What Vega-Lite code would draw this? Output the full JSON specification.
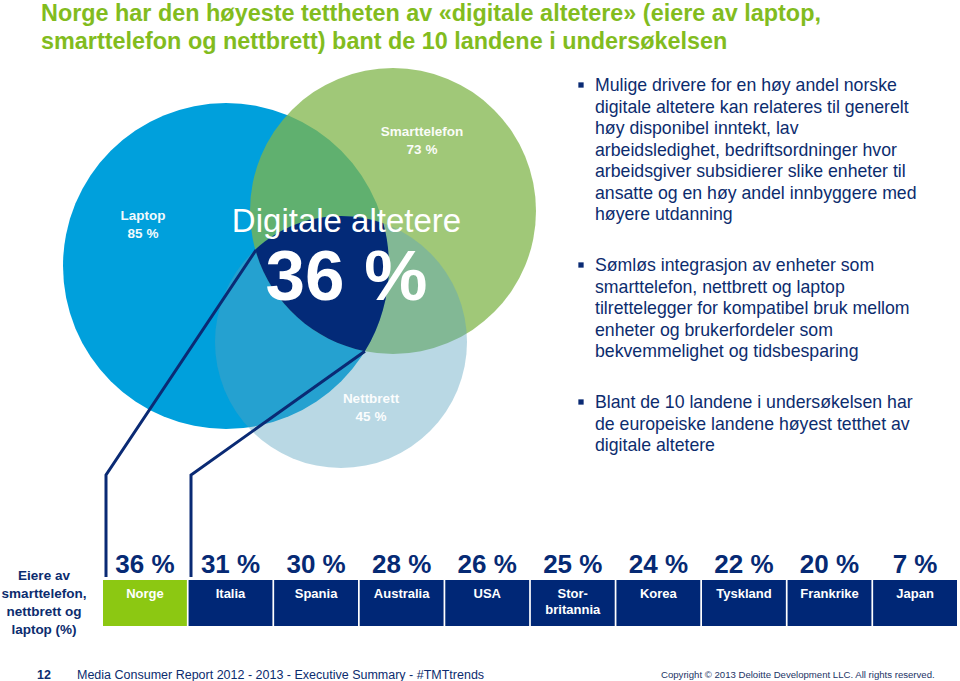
{
  "$schema": "https://vega.github.io/schema/vega-lite/v6.json",
  "width": 960,
  "height": 681,
  "padding": 0,
  "autosize": {"type": "none"},
  "background": "white",
  "config": {
    "view": {"stroke": null},
    "font": "Liberation Sans",
    "locale": {"number": {"decimal": ",", "thousands": " ", "grouping": [3], "currency": ["", " %"]}}
  },
  "datasets": {
    "venn": [
      {"device": "Laptop", "pct": 85, "cx": 226, "cy": 266, "lx": 143, "ly": 216},
      {"device": "Smarttelefon", "pct": 73, "cx": 393, "cy": 211, "lx": 422, "ly": 132},
      {"device": "Nettbrett", "pct": 45, "cx": 341, "cy": 342, "lx": 371, "ly": 399}
    ],
    "countries": [
      {"country": "Norge", "pct": 36},
      {"country": "Italia", "pct": 31},
      {"country": "Spania", "pct": 30},
      {"country": "Australia", "pct": 28},
      {"country": "USA", "pct": 26},
      {"country": "Stor-\nbritannia", "pct": 25},
      {"country": "Korea", "pct": 24},
      {"country": "Tyskland", "pct": 22},
      {"country": "Frankrike", "pct": 20},
      {"country": "Japan", "pct": 7}
    ]
  },
  "resolve": {"scale": {"x": "independent"}},
  "layer": [
    {
      "layer": [
        {
          "data": {"name": "venn"},
          "mark": {"type": "point", "shape": "circle", "filled": true, "opacity": 1, "strokeWidth": 0},
          "encoding": {
            "x": {"field": "cx", "type": "quantitative", "scale": {"domain": [0, 960], "nice": false, "zero": false}, "axis": null},
            "y": {"field": "cy", "type": "quantitative", "scale": {"domain": [0, 681], "nice": false, "zero": false, "reverse": true}, "axis": null},
            "size": {"field": "pct", "type": "quantitative", "scale": {"domain": [45, 73, 85], "range": [63504, 81796, 106276], "zero": false, "nice": false}, "legend": null},
            "color": {"field": "device", "type": "nominal", "scale": {"domain": ["Laptop", "Smarttelefon", "Nettbrett"], "range": ["#00A0DC", "rgba(128,182,75,0.75)", "rgba(88,162,190,0.42)"]}, "legend": null}
          }
        },
        {
          "data": {"values": [{"segment": "Digitale altetere", "x": 341, "y": 342}]},
          "mark": {"type": "point", "shape": "M -85.7 -92.4 A 126 126 0 0 1 42.3 -118.7 A 163 163 0 0 1 23.9 9.2 A 143 143 0 0 1 -85.7 -92.4 Z", "size": 4, "filled": true, "opacity": 1, "strokeWidth": 0, "color": "#032A78"},
          "encoding": {
            "x": {"field": "x", "type": "quantitative", "scale": {"domain": [0, 960], "nice": false, "zero": false}, "axis": null},
            "y": {"field": "y", "type": "quantitative", "scale": {"domain": [0, 681], "nice": false, "zero": false, "reverse": true}, "axis": null}
          }
        },
        {
          "data": {"values": [
            {"seg": "a", "i": 0, "x": 256, "y": 250},
            {"seg": "a", "i": 1, "x": 106, "y": 475},
            {"seg": "a", "i": 2, "x": 106, "y": 577},
            {"seg": "b", "i": 0, "x": 364.9, "y": 351.2},
            {"seg": "b", "i": 1, "x": 191, "y": 475},
            {"seg": "b", "i": 2, "x": 191, "y": 577}
          ]},
          "mark": {"type": "line", "strokeWidth": 3, "color": "#0A2A74", "strokeCap": "butt"},
          "encoding": {
            "x": {"field": "x", "type": "quantitative", "scale": {"domain": [0, 960], "nice": false, "zero": false}, "axis": null},
            "y": {"field": "y", "type": "quantitative", "scale": {"domain": [0, 681], "nice": false, "zero": false, "reverse": true}, "axis": null},
            "detail": {"field": "seg", "type": "nominal"},
            "order": {"field": "i", "type": "quantitative"}
          }
        },
        {
          "data": {"name": "venn"},
          "mark": {"type": "text", "fontSize": 13.5, "fontWeight": "bold", "color": "white", "opacity": 0.95, "align": "center", "baseline": "middle"},
          "encoding": {
            "x": {"field": "lx", "type": "quantitative", "scale": {"domain": [0, 960], "nice": false, "zero": false}, "axis": null},
            "y": {"field": "ly", "type": "quantitative", "scale": {"domain": [0, 681], "nice": false, "zero": false, "reverse": true}, "axis": null},
            "text": {"field": "device"}
          }
        },
        {
          "data": {"name": "venn"},
          "mark": {"type": "text", "fontSize": 13.5, "fontWeight": "bold", "color": "white", "opacity": 0.95, "align": "center", "baseline": "middle", "dy": 18},
          "encoding": {
            "x": {"field": "lx", "type": "quantitative", "scale": {"domain": [0, 960], "nice": false, "zero": false}, "axis": null},
            "y": {"field": "ly", "type": "quantitative", "scale": {"domain": [0, 681], "nice": false, "zero": false, "reverse": true}, "axis": null},
            "text": {"field": "pct", "type": "quantitative", "format": "$.0f"}
          }
        },
        {
          "data": {"values": [{"text": "Digitale altetere", "x": 346.5, "y": 232}]},
          "mark": {"type": "text", "fontSize": 33, "color": "white", "align": "center", "baseline": "alphabetic"},
          "encoding": {
            "x": {"field": "x", "type": "quantitative", "scale": {"domain": [0, 960], "nice": false, "zero": false}, "axis": null},
            "y": {"field": "y", "type": "quantitative", "scale": {"domain": [0, 681], "nice": false, "zero": false, "reverse": true}, "axis": null},
            "text": {"field": "text"}
          }
        },
        {
          "data": {"values": [{"pct": 36, "x": 346.5, "y": 300}]},
          "mark": {"type": "text", "fontSize": 71, "fontWeight": "bold", "color": "white", "align": "center", "baseline": "alphabetic"},
          "encoding": {
            "x": {"field": "x", "type": "quantitative", "scale": {"domain": [0, 960], "nice": false, "zero": false}, "axis": null},
            "y": {"field": "y", "type": "quantitative", "scale": {"domain": [0, 681], "nice": false, "zero": false, "reverse": true}, "axis": null},
            "text": {"field": "pct", "type": "quantitative", "format": "$.0f"}
          }
        },
        {
          "data": {"values": [
            {"x": 581, "y": 85},
            {"x": 581, "y": 265},
            {"x": 581, "y": 402}
          ]},
          "mark": {"type": "point", "shape": "square", "size": 28, "filled": true, "opacity": 1, "color": "#0A2A74", "strokeWidth": 0},
          "encoding": {
            "x": {"field": "x", "type": "quantitative", "scale": {"domain": [0, 960], "nice": false, "zero": false}, "axis": null},
            "y": {"field": "y", "type": "quantitative", "scale": {"domain": [0, 681], "nice": false, "zero": false, "reverse": true}, "axis": null}
          }
        },
        {
          "data": {"values": [
            {"x": 595, "y": 91, "text": "Mulige drivere for en høy andel norske\ndigitale altetere kan relateres til generelt\nhøy disponibel inntekt, lav\narbeidsledighet, bedriftsordninger hvor\narbeidsgiver subsidierer slike enheter til\nansatte og en høy andel innbyggere med\nhøyere utdanning"},
            {"x": 595, "y": 271, "text": "Sømløs integrasjon av enheter som\nsmarttelefon, nettbrett og laptop\ntilrettelegger for kompatibel bruk mellom\nenheter og brukerfordeler som\nbekvemmelighet og tidsbesparing"},
            {"x": 595, "y": 408, "text": "Blant de 10 landene i undersøkelsen har\nde europeiske landene høyest tetthet av\ndigitale altetere"}
          ]},
          "mark": {"type": "text", "fontSize": 17.7, "color": "#0C2C6E", "align": "left", "baseline": "alphabetic", "lineBreak": "\n", "lineHeight": 21.5},
          "encoding": {
            "x": {"field": "x", "type": "quantitative", "scale": {"domain": [0, 960], "nice": false, "zero": false}, "axis": null},
            "y": {"field": "y", "type": "quantitative", "scale": {"domain": [0, 681], "nice": false, "zero": false, "reverse": true}, "axis": null},
            "text": {"field": "text"}
          }
        },
        {
          "data": {"values": [{"x": 44, "y": 580, "text": "Eiere av\nsmarttelefon,\nnettbrett og\nlaptop (%)"}]},
          "mark": {"type": "text", "fontSize": 13.5, "fontWeight": "bold", "color": "#0C2C6E", "align": "center", "baseline": "alphabetic", "lineBreak": "\n", "lineHeight": 18},
          "encoding": {
            "x": {"field": "x", "type": "quantitative", "scale": {"domain": [0, 960], "nice": false, "zero": false}, "axis": null},
            "y": {"field": "y", "type": "quantitative", "scale": {"domain": [0, 681], "nice": false, "zero": false, "reverse": true}, "axis": null},
            "text": {"field": "text"}
          }
        },
        {
          "data": {"values": [{"x": 41, "y": 20.5, "text": "Norge har den høyeste tettheten av «digitale altetere» (eiere av laptop,\nsmarttelefon og nettbrett) bant de 10 landene i undersøkelsen"}]},
          "mark": {"type": "text", "fontSize": 23.4, "fontWeight": "bold", "color": "#82BC1E", "align": "left", "baseline": "alphabetic", "lineBreak": "\n", "lineHeight": 28},
          "encoding": {
            "x": {"field": "x", "type": "quantitative", "scale": {"domain": [0, 960], "nice": false, "zero": false}, "axis": null},
            "y": {"field": "y", "type": "quantitative", "scale": {"domain": [0, 681], "nice": false, "zero": false, "reverse": true}, "axis": null},
            "text": {"field": "text"}
          }
        },
        {
          "data": {"values": [{"x": 44, "y": 678.5, "text": "12"}]},
          "mark": {"type": "text", "fontSize": 12.5, "fontWeight": "bold", "color": "#0C2C6E", "align": "center", "baseline": "alphabetic"},
          "encoding": {
            "x": {"field": "x", "type": "quantitative", "scale": {"domain": [0, 960], "nice": false, "zero": false}, "axis": null},
            "y": {"field": "y", "type": "quantitative", "scale": {"domain": [0, 681], "nice": false, "zero": false, "reverse": true}, "axis": null},
            "text": {"field": "text"}
          }
        },
        {
          "data": {"values": [{"x": 77, "y": 678.5, "text": "Media Consumer Report 2012 - 2013  - Executive Summary - #TMTtrends"}]},
          "mark": {"type": "text", "fontSize": 12.5, "color": "#0C2C6E", "align": "left", "baseline": "alphabetic"},
          "encoding": {
            "x": {"field": "x", "type": "quantitative", "scale": {"domain": [0, 960], "nice": false, "zero": false}, "axis": null},
            "y": {"field": "y", "type": "quantitative", "scale": {"domain": [0, 681], "nice": false, "zero": false, "reverse": true}, "axis": null},
            "text": {"field": "text"}
          }
        },
        {
          "data": {"values": [{"x": 661, "y": 678, "text": "Copyright © 2013 Deloitte Development LLC. All rights reserved."}]},
          "mark": {"type": "text", "fontSize": 9.6, "color": "#1C3466", "align": "left", "baseline": "alphabetic"},
          "encoding": {
            "x": {"field": "x", "type": "quantitative", "scale": {"domain": [0, 960], "nice": false, "zero": false}, "axis": null},
            "y": {"field": "y", "type": "quantitative", "scale": {"domain": [0, 681], "nice": false, "zero": false, "reverse": true}, "axis": null},
            "text": {"field": "text"}
          }
        }
      ]
    },
    {
      "data": {"name": "countries"},
      "encoding": {
        "x": {"field": "country", "type": "nominal", "sort": null, "scale": {"range": [103, 957], "paddingInner": 0.02, "paddingOuter": 0}, "axis": null}
      },
      "layer": [
        {
          "mark": {"type": "bar"},
          "encoding": {
            "y": {"datum": 580, "type": "quantitative", "scale": {"domain": [0, 681], "nice": false, "zero": false, "reverse": true}, "axis": null},
            "y2": {"datum": 626},
            "color": {"condition": {"test": "datum.country === 'Norge'", "value": "#8CC812"}, "value": "#002776"}
          }
        },
        {
          "mark": {"type": "text", "fontSize": 26, "fontWeight": "bold", "color": "#062A74", "align": "center", "baseline": "alphabetic"},
          "encoding": {
            "y": {"datum": 573, "type": "quantitative", "scale": {"domain": [0, 681], "nice": false, "zero": false, "reverse": true}, "axis": null},
            "text": {"field": "pct", "type": "quantitative", "format": "$.0f"}
          }
        },
        {
          "mark": {"type": "text", "fontSize": 13, "fontWeight": "bold", "color": "white", "align": "center", "baseline": "alphabetic", "lineBreak": "\n", "lineHeight": 16.5},
          "encoding": {
            "y": {"datum": 597.5, "type": "quantitative", "scale": {"domain": [0, 681], "nice": false, "zero": false, "reverse": true}, "axis": null},
            "text": {"field": "country"}
          }
        }
      ]
    }
  ]
}
